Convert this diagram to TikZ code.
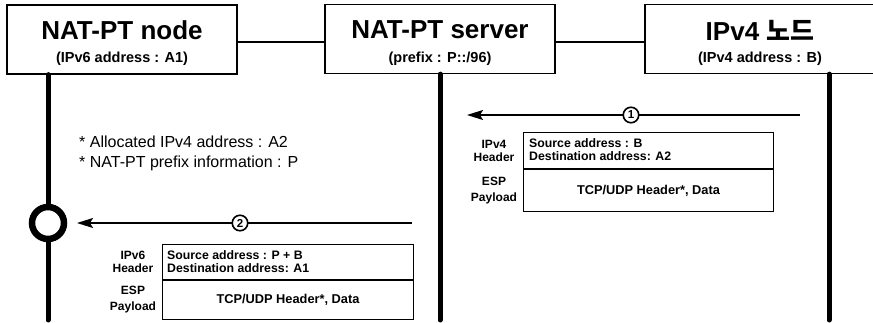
\documentclass[tikz,border=0pt]{standalone}
\usepackage{fontspec}
\setmainfont{Liberation Sans}
\newfontfamily\krfont{Noto Sans CJK KR}
\usetikzlibrary{arrows.meta}
\begin{document}
\begin{tikzpicture}[x=1pt,y=-1pt,
  entity/.style={draw,line width=1.3pt,minimum height=69pt,inner sep=0pt},
  etitle/.style={inner sep=0pt,font=\bfseries\fontsize{26}{28}\selectfont},
  esub/.style={inner sep=0pt,font=\bfseries\fontsize{14.5}{16}\selectfont},
  lifeline/.style={line width=5pt,line cap=round},
  msg/.style={line width=1.4pt,-{Stealth[length=16pt,width=10pt,inset=3pt]}},
  stepnum/.style={circle,draw,line width=1.6pt,fill=white,inner sep=0pt,minimum size=15.5pt,font=\bfseries\fontsize{11.5}{11.5}\selectfont},
  pkt/.style={draw,line width=1pt,minimum width=250pt,inner sep=0pt},
  hdrlabel/.style={align=center,inner sep=0pt,font=\bfseries\fontsize{12}{13}\selectfont},
  paylabel/.style={align=center,inner sep=0pt,font=\bfseries\fontsize{12}{16}\selectfont},
  pkttext/.style={inner sep=0pt,font=\bfseries\fontsize{12.3}{13}\selectfont}]
\useasboundingbox (0,0) rectangle (873,323);
% entity boxes
\node[entity,minimum width=230pt] (n1) at (122,39.5) {};
\node[etitle] (t1) at (122,30) {NAT-PT node};
\node[esub] (u1) at (122,59) {(IPv6 address : A1)};
\node[entity,minimum width=230pt] (n2) at (440,39) {};
\node[etitle] (t2) at (440,30) {NAT-PT server};
\node[esub] (u2) at (440,59) {(prefix : P::/96)};
\node[entity,minimum width=240pt] (n3) at (765,39) {};
\node[etitle] (t3) at (760,30) {IPv4 {\krfont 노드}};
\node[esub] (u3) at (760,59) {(IPv4 address : B)};
\draw[line width=1.4pt] (n1.east |- 0,42) -- (n2.west |- 0,42);
\draw[line width=1.4pt] (n2.east |- 0,42) -- (n3.west |- 0,42);
% lifelines
\coordinate (e1) at (48,320);
\coordinate (e2) at (440,320);
\coordinate (e3) at (829,320);
\node[circle,draw,line width=6.5pt,minimum size=32pt,inner sep=0pt] (c1) at (48,223) {};
\draw[lifeline] (n1.south -| 48,0) -- (c1.north);
\draw[lifeline] (c1.south) -- (e1);
\draw[lifeline] (n2.south -| 440,0) -- (e2);
\draw[lifeline] (n3.south -| 829,0) -- (e3);
% message 1
\coordinate (m1s) at (800,115);
\coordinate (m1e) at (467,115);
\draw[msg] (m1s) -- (m1e);
\node[stepnum] (s1) at (631,115) {1};
% message 2
\coordinate (m2s) at (412,223);
\coordinate (m2e) at (77,223);
\draw[msg] (m2s) -- (m2e);
\node[stepnum] (s2) at (240,223) {2};
% notes
\node[anchor=west,align=left,inner sep=0pt,font=\fontsize{16}{20}\selectfont] (note) at (79,153)
  {* Allocated IPv4 address : A2\\* NAT-PT prefix information : P};
% packet 1
\node[pkt,minimum height=36pt,anchor=north west] (p1h) at (523,132) {};
\node[pkt,minimum height=42pt,anchor=north west] (p1p) at (p1h.south west) {};
\node[pkttext,anchor=west,align=left] (p1ht) at ([xshift=6pt,yshift=0.5pt]p1h.west) {Source address : B\\Destination address: A2};
\node[pkttext,font=\bfseries\fontsize{12.8}{14}\selectfont] (p1pt) at (p1p.center) {TCP/UDP Header*, Data};
\node[hdrlabel] (p1hl) at (494,0 |- p1h.center) {IPv4\\Header};
\node[paylabel] (p1pl) at (494,0 |- p1p.center) {ESP\\Payload};
% packet 2
\node[pkt,minimum height=35pt,anchor=north west,minimum width=251pt] (p2h) at (162,244) {};
\node[pkt,minimum height=39pt,anchor=north west,minimum width=251pt] (p2p) at (p2h.south west) {};
\node[pkttext,anchor=west,align=left] (p2ht) at ([xshift=5pt,yshift=0.5pt]p2h.west) {Source address : P + B\\Destination address: A1};
\node[pkttext,font=\bfseries\fontsize{12.8}{14}\selectfont] (p2pt) at (p2p.center) {TCP/UDP Header*, Data};
\node[hdrlabel] (p2hl) at (133,0 |- p2h.center) {IPv6\\Header};
\node[paylabel] (p2pl) at (133,0 |- p2p.center) {ESP\\Payload};
\end{tikzpicture}
\end{document}
